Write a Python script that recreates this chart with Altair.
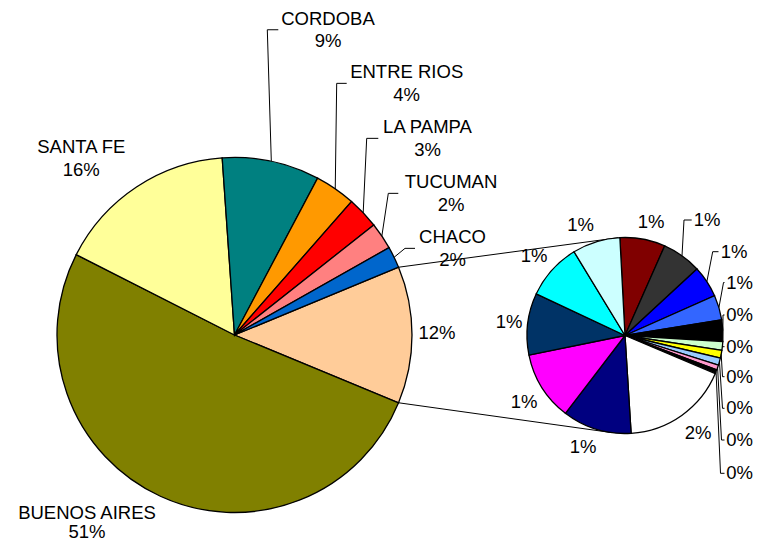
import numpy as np
import pandas as pd
import altair as alt

# ---------------- data ----------------
main_names = ["BUENOS AIRES", "SANTA FE", "CORDOBA", "ENTRE RIOS", "LA PAMPA", "TUCUMAN", "CHACO"]
main_values = [51.2, 16.4, 8.85, 3.7, 2.9, 2.45, 1.95]
main_colors = ["#808000", "#FFFF99", "#008080", "#FF9900", "#FF0000", "#FF8080", "#0066CC"]
other_color = "#FFCC99"

# breakdown of the split slice (second pie), clockwise from the top
sec_values = [0.93, 0.81, 0.65, 0.51, 0.44, 0.18, 0.16, 0.15, 0.10, 0.08,
              2.20, 1.42, 1.42, 1.27, 1.16, 0.98]
sec_colors = ["#800000", "#333333", "#0000FF", "#3366FF", "#000000", "#CCFFCC",
              "#FFFF00", "#99CCFF", "#FF99CC", "#000000", "#FFFFFF", "#000080",
              "#FF00FF", "#003366", "#00FFFF", "#CCFFFF"]

other_value = float(sum(sec_values))

# ---------------- layout (page pixel coordinates) ----------------
PAGE = 8
W, H = 745, 534
MAIN_CX, MAIN_CY, MAIN_R = 234.5, 335.0, 177.5
SEC_CX, SEC_CY, SEC_R = 625.0, 335.5, 98.0
SEC_START_DEG = -3.0
LINK_ANGLES_DEG = (-4.0, 188.0)
FONT = "Liberation Sans"
FS = 18.5
LINE_GAP = 23.3

# name -> (text centre x, first line centre y, line gap, leader elbow x, leader end x)
main_label_layout = {
    "Other": (437.0, None, None, None, None),
    "BUENOS AIRES": (87.0, 512.5, 19.5, None, None),
    "SANTA FE": (81.3, 146.7, LINE_GAP, None, None),
    "CORDOBA": (328.0, 18.5, 22.5, 267.3, 278.3),
    "ENTRE RIOS": (406.7, 71.7, LINE_GAP, 336.7, 346.7),
    "LA PAMPA": (427.5, 126.7, LINE_GAP, 366.7, 378.3),
    "TUCUMAN": (451.0, 181.7, LINE_GAP, 388.3, 398.3),
    "CHACO": (452.5, 236.7, LINE_GAP, 405.0, 415.0),
}
other_label_y = 333.0
# second pie labels: (centre x, centre y, elbow x, end x)
sec_label_layout = [
    (651.0, 222.0, None, None),
    (707.0, 220.0, 684.0, 691.7),
    (734.0, 251.7, 712.7, 718.5),
    (739.5, 282.5, 723.5, 724.5),
    (739.5, 315.0, 723.0, 724.5),
    (739.5, 346.7, 722.5, 724.5),
    (739.5, 376.7, 722.5, 724.5),
    (739.5, 408.3, 722.5, 724.5),
    (739.5, 440.0, 721.5, 724.5),
    (739.5, 473.3, 720.5, 724.5),
    (698.0, 433.3, None, None),
    (583.0, 446.7, None, None),
    (524.0, 401.7, None, None),
    (509.0, 321.7, None, None),
    (534.0, 255.5, None, None),
    (580.5, 225.0, None, None),
]

# ---------------- derived geometry from the values ----------------
m_names = ["Other"] + main_names
m_vals = np.array([other_value] + main_values)
m_cols = [other_color] + main_colors
total = m_vals.sum()
m_frac = m_vals / total
a0 = np.pi / 2 - m_frac[0] * np.pi          # split slice centred at 3 o'clock
m_start = a0 + 2 * np.pi * np.concatenate([[0], np.cumsum(m_frac)[:-1]])
m_mid = m_start + np.pi * m_frac
m_end = m_start + 2 * np.pi * m_frac

s_vals = np.array(sec_values)
s_frac = s_vals / s_vals.sum()
s0 = np.radians(SEC_START_DEG)
s_start = s0 + 2 * np.pi * np.concatenate([[0], np.cumsum(s_frac)[:-1]])
s_mid = s_start + np.pi * s_frac


def pct(v):
    return f"{int(np.floor(v / total * 100 + 0.5))}%"


def polar(cx, cy, r, a):
    return cx + r * np.sin(a), cy - r * np.cos(a)


main_df = pd.DataFrame({"name": m_names, "v": m_vals, "color": m_cols, "idx": range(len(m_vals))})
sec_df = pd.DataFrame({"v": s_vals, "color": sec_colors, "idx": range(len(s_vals))})

texts = []
leaders = []
for i, name in enumerate(m_names):
    cx, y1, gap, ex, endx = main_label_layout[name]
    if name == "Other":
        texts.append({"x": cx, "y": other_label_y, "t": pct(m_vals[i])})
        continue
    texts.append({"x": cx, "y": y1, "t": name})
    texts.append({"x": cx, "y": y1 + gap, "t": pct(m_vals[i])})
    if ex is not None:
        ly = y1 + gap / 2
        px, py = polar(MAIN_CX, MAIN_CY, MAIN_R, m_mid[i])
        for k, (xx, yy) in enumerate([(px, py), (ex, ly), (endx, ly)]):
            leaders.append({"key": f"m{i}", "o": k, "x": xx, "y": yy})

for i, v in enumerate(s_vals):
    cx, cy, ex, endx = sec_label_layout[i]
    texts.append({"x": cx, "y": cy, "t": pct(v)})
    if ex is not None:
        px, py = polar(SEC_CX, SEC_CY, SEC_R, s_mid[i])
        for k, (xx, yy) in enumerate([(px, py), (ex, cy), (endx, cy)]):
            leaders.append({"key": f"s{i}", "o": k, "x": xx, "y": yy})

links = []
for j, (ma, sa) in enumerate([(m_start[0], np.radians(LINK_ANGLES_DEG[0])),
                              (m_end[0], np.radians(LINK_ANGLES_DEG[1]))]):
    x1, y1_ = polar(MAIN_CX, MAIN_CY, MAIN_R, ma)
    x2, y2_ = polar(SEC_CX, SEC_CY, SEC_R, sa)
    links.append({"x": x1, "y": y1_, "x2": x2, "y2": y2_})

text_df = pd.DataFrame(texts)
leader_df = pd.DataFrame(leaders)
link_df = pd.DataFrame(links)

xs = alt.Scale(domain=[PAGE, PAGE + W], range=[0, W])
ys = alt.Scale(domain=[PAGE, PAGE + H], range=[0, H])

main_pie = alt.Chart(main_df).mark_arc(radius=MAIN_R, stroke="black", strokeWidth=1.3).encode(
    theta=alt.Theta("v:Q", stack=True, scale=alt.Scale(range=[a0, a0 + 2 * np.pi])),
    color=alt.Color("color:N", scale=None),
    order=alt.Order("idx:Q"),
    x=alt.value(MAIN_CX - PAGE),
    y=alt.value(MAIN_CY - PAGE),
)

sec_pie = alt.Chart(sec_df).mark_arc(radius=SEC_R, stroke="black", strokeWidth=1.3).encode(
    theta=alt.Theta("v:Q", stack=True, scale=alt.Scale(range=[s0, s0 + 2 * np.pi])),
    color=alt.Color("color:N", scale=None),
    order=alt.Order("idx:Q"),
    x=alt.value(SEC_CX - PAGE),
    y=alt.value(SEC_CY - PAGE),
)

link_lines = alt.Chart(link_df).mark_rule(color="black", strokeWidth=1).encode(
    x=alt.X("x:Q", scale=xs, axis=None),
    y=alt.Y("y:Q", scale=ys, axis=None),
    x2="x2:Q",
    y2="y2:Q",
)

leader_lines = alt.Chart(leader_df).mark_line(color="black", strokeWidth=1).encode(
    x=alt.X("x:Q", scale=xs, axis=None),
    y=alt.Y("y:Q", scale=ys, axis=None),
    detail="key:N",
    order="o:Q",
)

labels = alt.Chart(text_df).mark_text(
    font=FONT, fontSize=FS, color="black", align="center", baseline="middle"
).encode(
    x=alt.X("x:Q", scale=xs, axis=None),
    y=alt.Y("y:Q", scale=ys, axis=None),
    text="t:N",
)

chart = (
    alt.layer(link_lines, main_pie, sec_pie, leader_lines, labels)
    .resolve_scale(theta="independent")
    .properties(width=W, height=H, padding=0, autosize=alt.AutoSizeParams(type="none"))
    .configure_view(stroke=None)
)

chart.save("out.html", embed_options={"renderer": "svg", "actions": False})
